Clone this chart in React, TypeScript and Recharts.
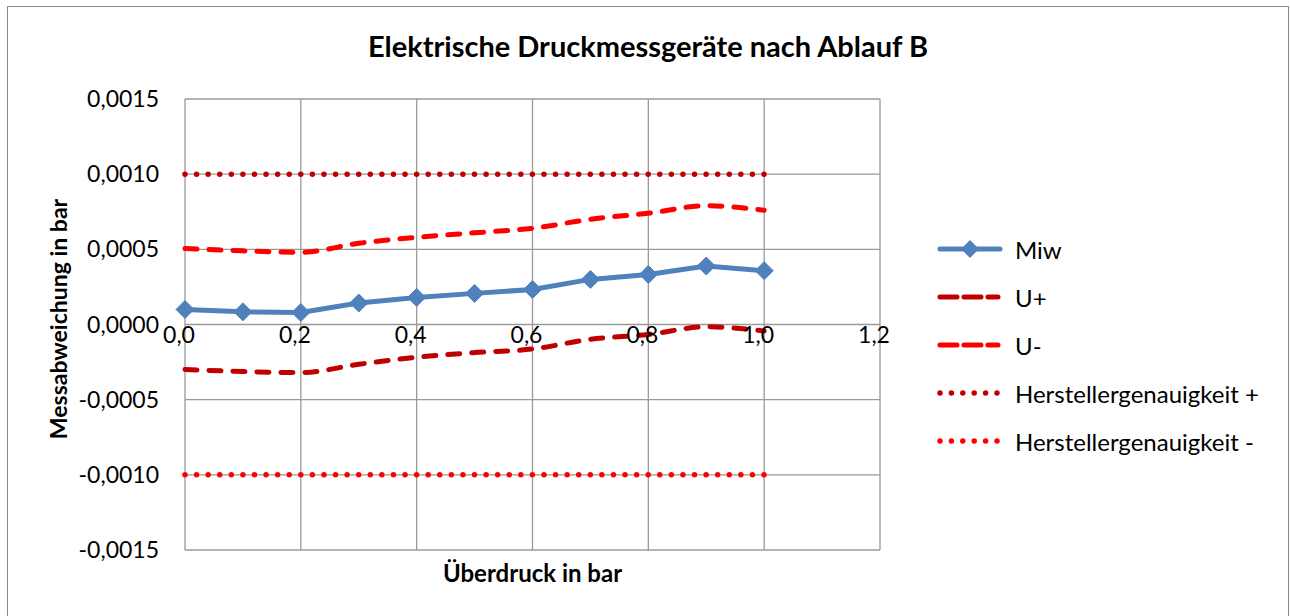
import React from 'react';
import { LineChart, Line, XAxis, YAxis, CartesianGrid } from 'recharts';

const pressure = [0, 0.1, 0.2, 0.3, 0.4, 0.5, 0.6, 0.7, 0.8, 0.9, 1.0];
const miw = [0.0001, 0.000084, 0.00008, 0.000143, 0.00018, 0.000207, 0.000233, 0.0003, 0.000333, 0.000389, 0.000358];
const uPlus = [-0.000299, -0.000313, -0.00032, -0.000265, -0.000218, -0.000187, -0.000163, -0.000098, -0.000066, -0.000015, -0.000043];
const uMinus = [0.000505, 0.00049, 0.00048, 0.00054, 0.00058, 0.00061, 0.00064, 0.0007, 0.00074, 0.00079, 0.00076];
const herstPlus = [0.001, 0.001, 0.001, 0.001, 0.001, 0.001, 0.001, 0.001, 0.001, 0.001, 0.001];
const herstMinus = [-0.001, -0.001, -0.001, -0.001, -0.001, -0.001, -0.001, -0.001, -0.001, -0.001, -0.001];

const xTicks = [0, 0.2, 0.4, 0.6, 0.8, 1.0, 1.2];
const yTicks = [-0.0015, -0.001, -0.0005, 0, 0.0005, 0.001, 0.0015];

const data = pressure.map((p, i) => ({
  p,
  miw: miw[i],
  uPlus: uPlus[i],
  uMinus: uMinus[i],
  hPlus: herstPlus[i],
  hMinus: herstMinus[i],
}));

// kind: marker line, dashed, dotted
const series = [
  { key: 'miw', name: 'Miw', color: '#4F81BD', kind: 'marker' },
  { key: 'uPlus', name: 'U+', color: '#C00000', kind: 'dash' },
  { key: 'uMinus', name: 'U-', color: '#FF0000', kind: 'dash' },
  { key: 'hPlus', name: 'Herstellergenauigkeit +', color: '#C00000', kind: 'dot' },
  { key: 'hMinus', name: 'Herstellergenauigkeit -', color: '#FF0000', kind: 'dot' },
];

const FONT = 'Lato, "Open Sans", sans-serif';
const W = 1280;
const H = 610;
const PLOT_LEFT = 177;
const PLOT_TOP = 92;
const PLOT_W = 695;
const PLOT_H = 451;
const ZERO_Y = PLOT_TOP + PLOT_H / 2;

const de = (v: number, d: number) => v.toFixed(d).replace('.', ',');

const Diamond = (props: any) => {
  const { cx, cy } = props;
  if (cx == null || cy == null) return null;
  const r = 9;
  return (
    <polygon
      points={`${cx},${cy - r} ${cx + r},${cy} ${cx},${cy + r} ${cx - r},${cy}`}
      fill="#4F81BD"
      stroke="#4F81BD"
    />
  );
};

const XTick = (props: any) => {
  const { x, payload } = props;
  return (
    <text x={x - 6} y={ZERO_Y + 18} textAnchor="middle" fontSize={23} fontFamily={FONT} fill="#000">
      {de(payload.value, 1)}
    </text>
  );
};

const YTick = (props: any) => {
  const { y, payload } = props;
  return (
    <text x={151} y={y} dy="0.35em" textAnchor="end" fontSize={23} fontFamily={FONT} fill="#000">
      {de(payload.value, 4)}
    </text>
  );
};

const LegendBox = () => (
  <div
    style={{
      position: 'absolute',
      left: 929,
      top: 218,
      fontFamily: FONT,
      fontSize: 24,
      color: '#000',
    }}
  >
    {series.map((s) => (
      <div key={s.key} style={{ display: 'flex', alignItems: 'center', height: 48, whiteSpace: 'nowrap' }}>
        <svg width={66} height={20} style={{ marginRight: 12 }}>
          <line
            x1={3}
            y1={10}
            x2={s.kind === 'marker' ? 63 : 61}
            y2={10}
            stroke={s.color}
            strokeWidth={s.kind === 'dot' ? 5.5 : 5}
            strokeDasharray={s.kind === 'dash' ? '17 7' : s.kind === 'dot' ? '0 11.4' : undefined}
            strokeLinecap="round"
          />
          {s.kind === 'marker' && <polygon points="33,1 42,10 33,19 24,10" fill={s.color} />}
        </svg>
        <span>{s.name}</span>
      </div>
    ))}
  </div>
);

const App = () => {
  return (
    <div
      style={{
        position: 'absolute',
        left: 7,
        top: 6,
        width: W,
        height: H + 20,
        border: '1px solid #8a8a8a',
        background: '#fff',
      }}
    >
      <div
        style={{
          position: 'absolute',
          left: 0,
          width: W,
          top: 21,
          textAlign: 'center',
          fontFamily: FONT,
          fontWeight: 'bold',
          fontSize: 29,
          color: '#000',
        }}
      >
        Elektrische Druckmessgeräte nach Ablauf B
      </div>
      <div
        style={{
          position: 'absolute',
          left: PLOT_LEFT,
          width: PLOT_W,
          top: 551,
          textAlign: 'center',
          fontFamily: FONT,
          fontWeight: 'bold',
          fontSize: 24,
          color: '#000',
        }}
      >
        Überdruck in bar
      </div>
      <div
        style={{
          position: 'absolute',
          left: 50,
          top: ZERO_Y - 6,
          width: 0,
          height: 0,
          overflow: 'visible',
        }}
      >
        <div
          style={{
            position: 'absolute',
            transform: 'translate(-50%, -50%) rotate(-90deg)',
            whiteSpace: 'nowrap',
            fontFamily: FONT,
            fontWeight: 'bold',
            fontSize: 23,
            color: '#000',
          }}
        >
          Messabweichung in bar
        </div>
      </div>
      <LegendBox />
      <LineChart
        width={W}
        height={H}
        data={data}
        margin={{ top: PLOT_TOP, right: W - PLOT_LEFT - PLOT_W, bottom: 0, left: 0 }}
      >
        <CartesianGrid stroke="#9a9a9a" strokeWidth={1.3} />
        <XAxis
          dataKey="p"
          type="number"
          domain={[0, 1.2]}
          ticks={xTicks}
          height={H - PLOT_TOP - PLOT_H}
          axisLine={false}
          tickLine={false}
          tick={<XTick />}
          interval={0}
        />
        <YAxis
          type="number"
          domain={[-0.0015, 0.0015]}
          ticks={yTicks}
          width={PLOT_LEFT}
          axisLine={false}
          tickLine={false}
          tick={<YTick />}
          interval={0}
        />
        {series.map((s) => (
          <Line
            key={s.key}
            dataKey={s.key}
            name={s.name}
            type={s.kind === 'dash' ? 'monotone' : 'linear'}
            stroke={s.color}
            strokeWidth={s.kind === 'dot' ? 5.5 : 5}
            strokeDasharray={s.kind === 'dash' ? '12 12' : s.kind === 'dot' ? '0 11.58' : undefined}
            strokeLinecap="round"
            dot={s.kind === 'marker' ? <Diamond /> : false}
            activeDot={false}
            isAnimationActive={false}
          />
        ))}
      </LineChart>
    </div>
  );
};

export default App;
